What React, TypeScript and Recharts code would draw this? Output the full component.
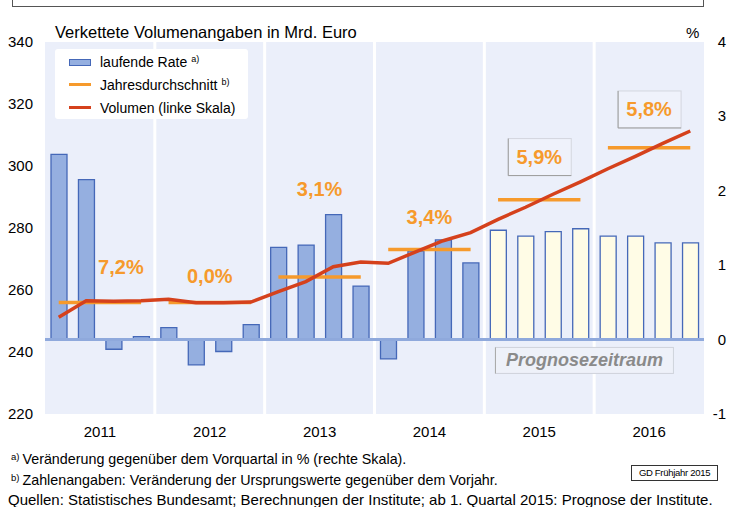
import { ComposedChart, Bar, Line, XAxis, YAxis, CartesianGrid, ReferenceLine, ReferenceDot, Cell } from "recharts"

const years = ["2011", "2012", "2013", "2014", "2015", "2016"]
const quarters = years.flatMap((y) => ["Q1", "Q2", "Q3", "Q4"].map((q) => y + q))

// laufende Rate, % gg. Vorquartal (rechte Skala)
const rate = [
  2.49, 2.15, -0.13, 0.04,
  0.16, -0.34, -0.16, 0.2,
  1.24, 1.27, 1.68, 0.72,
  -0.26, 1.19, 1.34, 1.03,
  1.47, 1.39, 1.45, 1.49,
  1.39, 1.39, 1.3, 1.3,
]

// Volumen, Mrd. Euro (linke Skala)
const volume = [
  251.2, 256.5, 256.4, 256.5,
  257.0, 255.9, 255.9, 256.1,
  259.5, 262.7, 267.5, 269.0,
  268.6, 272.3, 275.9, 278.5,
  282.8, 286.7, 290.9, 294.9,
  299.1, 303.1, 307.3, 311.3,
]

// Jahresdurchschnitt (rechte Skala)
const annualAvg = [0.5, 0.5, 0.84, 1.21, 1.88, 2.58]
const annualText = ["7,2%", "0,0%", "3,1%", "3,4%", "5,9%", "5,8%"]
const annualTextLevel = [0.97, 0.85, 2.02, 1.65, 2.46, 3.1]
const firstForecast = "2015Q1"

const leftTicks = [220, 240, 260, 280, 300, 320, 340]
const rightTicks = [-1, 0, 1, 2, 3, 4]

const W = 729
const H = 507
const PLOT_LEFT = 45
const PLOT_RIGHT = 25
const BAND = (W - PLOT_LEFT - PLOT_RIGHT) / quarters.length

const BAR_FILL = "#95AFE0"
const BAR_STROKE = "#4568B8"
const FORECAST_FILL = "#FFFCE6"
const ORANGE = "#F69A2C"
const RED = "#D5411C"
const PLOT_BG = "#EBEFFA"
const FONT = "'Liberation Sans', Arial, sans-serif"

const forecastIdx = quarters.indexOf(firstForecast)
const data = quarters.map((q, i) => {
  const yi = Math.floor(i / 4)
  return {
    q,
    rate: rate[i],
    vol: volume[i],
    avgA: yi % 2 === 0 ? annualAvg[yi] : null,
    avgB: yi % 2 === 1 ? annualAvg[yi] : null,
    forecast: i >= forecastIdx,
  }
})

const YearTick = ({ x, y, payload }: any) => {
  if (!String(payload.value).endsWith("Q2")) return <g />
  return (
    <text x={x + BAND / 2} y={y + 15} textAnchor="middle" fontSize={15} fill="#000" fontFamily={FONT}>
      {String(payload.value).slice(0, 4)}
    </text>
  )
}

const RightTick = ({ x, y, payload }: any) => (
  <text x={x + 14} y={y} dy={5} textAnchor="end" fontSize={15} fill="#000" fontFamily={FONT}>
    {payload.value}
  </text>
)

const pctLabel = (text: string, boxed: boolean, dx: number) => (props: any) => {
  const vb = props.viewBox || {}
  const cx = vb.x + (vb.width || 0) / 2 + BAND / 2 + dx
  const cy = vb.y + (vb.height || 0) / 2
  return (
    <g>
      {boxed && (
        <g>
          <rect x={cx - 31} y={cy - 18} width={63} height={37} fill="#EFF2FB" stroke="#D3D6DE" />
          <path d={`M${cx - 31},${cy - 18} L${cx - 31},${cy + 19} L${cx + 32},${cy + 19}`} fill="none" stroke="#9C9C9C" />
        </g>
      )}
      <text x={cx} y={cy} dy={7} textAnchor="middle" fontSize={20} fontWeight="bold" fill={ORANGE} fontFamily={FONT}>
        {text}
      </text>
    </g>
  )
}

const prognoseLabel = (props: any) => {
  const vb = props.viewBox || {}
  const cx = vb.x + (vb.width || 0) / 2 + 4
  const cy = vb.y + (vb.height || 0) / 2
  return (
    <g>
      <rect x={cx - 89} y={cy - 13} width={178} height={26} fill="#EEF1F9" stroke="#CFD3DB" />
      <path d={`M${cx - 89},${cy + 13} L${cx - 89},${cy - 13}`} stroke="#A8A8A8" />
      <text x={cx} y={cy} dy={6} textAnchor="middle" fontSize={18} fontWeight="bold" fontStyle="italic" fill="#8A8A8A" fontFamily={FONT}>
        Prognosezeitraum
      </text>
    </g>
  )
}

const legendItems = [
  { kind: "bar", text: "laufende Rate", sup: "a)" },
  { kind: "line", color: ORANGE, text: "Jahresdurchschnitt", sup: "b)" },
  { kind: "line", color: RED, text: "Volumen (linke Skala)", sup: "" },
]

const txt = (left: number, top: number, size: number, extra: any = {}) => ({
  position: "absolute" as const,
  left,
  top,
  fontSize: size,
  lineHeight: 1,
  whiteSpace: "nowrap" as const,
  color: "#000",
  ...extra,
})

export default function App() {
  return (
    <div style={{ position: "absolute", left: 0, top: 0, width: W, height: H, background: "#fff", fontFamily: FONT, overflow: "hidden" }}>
      <div style={{ position: "absolute", left: 12, top: -20, width: 690, height: 25, border: "1px solid #555" }} />
      <div style={txt(55, 24, 16.5)}>Verkettete Volumenangaben in Mrd. Euro</div>
      <div style={txt(686, 25, 15)}>%</div>

      <ComposedChart width={W} height={H} data={data} margin={{ top: 42, right: 0, bottom: 63, left: 0 }} barCategoryGap={0}>
        <CartesianGrid
          horizontal={false}
          fill={PLOT_BG}
          stroke="#fff"
          strokeWidth={3}
          verticalCoordinatesGenerator={({ offset }: any) =>
            years.slice(1).map((_, i) => offset.left + ((i + 1) * offset.width) / years.length)
          }
        />
        <XAxis dataKey="q" interval={0} axisLine={false} tickLine={false} height={30} tick={<YearTick />} />
        <YAxis
          yAxisId="left"
          orientation="left"
          width={PLOT_LEFT}
          domain={[220, 340]}
          ticks={leftTicks}
          axisLine={false}
          tickLine={false}
          tickMargin={6}
          tick={{ fontSize: 15, fill: "#000", fontFamily: FONT }}
        />
        <YAxis
          yAxisId="right"
          orientation="right"
          width={PLOT_RIGHT}
          domain={[-1, 4]}
          ticks={rightTicks}
          axisLine={false}
          tickLine={false}
          tick={<RightTick />}
        />
        <ReferenceLine yAxisId="right" y={0} stroke="#8FA9DC" strokeWidth={3} />
        <Bar yAxisId="right" dataKey="rate" barSize={16} stroke={BAR_STROKE} strokeWidth={1.3} isAnimationActive={false}>
          {data.map((d) => (
            <Cell key={d.q} fill={d.forecast ? FORECAST_FILL : BAR_FILL} />
          ))}
        </Bar>
        <Line yAxisId="right" dataKey="avgA" stroke={ORANGE} strokeWidth={3.5} dot={false} connectNulls={false} isAnimationActive={false} />
        <Line yAxisId="right" dataKey="avgB" stroke={ORANGE} strokeWidth={3.5} dot={false} connectNulls={false} isAnimationActive={false} />
        <Line yAxisId="left" dataKey="vol" stroke={RED} strokeWidth={3.5} dot={false} isAnimationActive={false} />
        {years.map((y, i) => (
          <ReferenceDot
            key={y}
            yAxisId="right"
            x={y + "Q2"}
            y={annualTextLevel[i]}
            r={0}
            fill="none"
            stroke="none"
            label={{ content: pctLabel(annualText[i], i >= 4, i === 0 ? 21 : 0) }}
          />
        ))}
        <ReferenceDot yAxisId="right" x="2015Q4" y={-0.28} r={0} fill="none" stroke="none" label={{ content: prognoseLabel }} />
      </ComposedChart>

      <div style={{ position: "absolute", left: 55, top: 49, width: 193, height: 70, background: "#fff", borderRadius: 3 }}>
        {legendItems.map((it, i) => (
          <div key={it.text} style={{ position: "absolute", left: 0, top: 5 + i * 23, height: 16, width: 193 }}>
            {it.kind === "bar" ? (
              <div style={{ position: "absolute", left: 14, top: 5, width: 20, height: 5, background: BAR_FILL, border: `1px solid ${BAR_STROKE}` }} />
            ) : (
              <div style={{ position: "absolute", left: 14, top: 6, width: 22, height: 3, background: it.color }} />
            )}
            <div style={txt(45, 1, 14)}>
              {it.text}
              {it.sup && <span style={{ fontSize: 9, verticalAlign: "5px", marginLeft: 4 }}>{it.sup}</span>}
            </div>
          </div>
        ))}
      </div>

      <div style={txt(11, 452, 14.3)}>
        <span style={{ fontSize: 9.5, verticalAlign: "4px", marginRight: 3 }}>a)</span>
        Veränderung gegenüber dem Vorquartal in % (rechte Skala).
      </div>
      <div style={txt(11, 473, 14.3)}>
        <span style={{ fontSize: 9.5, verticalAlign: "4px", marginRight: 3 }}>b)</span>
        Zahlenangaben: Veränderung der Ursprungswerte gegenüber dem Vorjahr.
      </div>
      <div style={txt(8, 492, 15)}>
        Quellen: Statistisches Bundesamt; Berechnungen der Institute; ab 1. Quartal 2015: Prognose der Institute.
      </div>
      <div style={{ position: "absolute", left: 631, top: 465, width: 85, height: 14, border: "1px solid #333", fontSize: 9.5, letterSpacing: -0.3, lineHeight: "14px", textAlign: "center", whiteSpace: "nowrap" }}>
        GD Frühjahr 2015
      </div>
    </div>
  )
}
